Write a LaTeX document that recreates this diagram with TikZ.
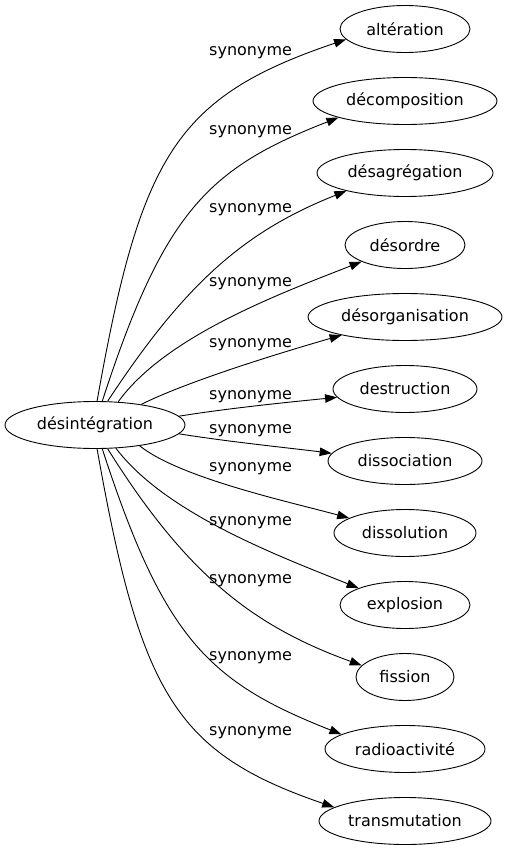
\documentclass[tikz,border=0pt]{standalone}
\usepackage{fontspec}
\setmainfont{DejaVu Sans}
\usetikzlibrary{arrows.meta,shapes.geometric}
\begin{document}
\begin{tikzpicture}[x=1pt,y=-1pt,
  every node/.style={font=\fontsize{16}{19}\selectfont},
  term/.style={ellipse,draw,line width=0.9pt,inner sep=0pt,minimum height=47pt},
  lbl/.style={anchor=base west,inner sep=0pt},
  syn/.style={draw,line width=0.9pt,-{Triangle[length=12pt,width=8.5pt]}}]
\useasboundingbox (0,0) rectangle (507,851);
\node[term,minimum width=180pt] (s) at (95,425) {désintégration};
\node[term,minimum width=130pt] (t1) at (405,29) {altération};
\node[term,minimum width=184pt] (t2) at (405,101) {décomposition};
\node[term,minimum width=176pt] (t3) at (405,173) {désagrégation};
\node[term,minimum width=120pt] (t4) at (405,245) {désordre};
\node[term,minimum width=194pt] (t5) at (405,317) {désorganisation};
\node[term,minimum width=144pt] (t6) at (405,389) {destruction};
\node[term,minimum width=154pt] (t7) at (405,461) {dissociation};
\node[term,minimum width=142pt] (t8) at (405,533) {dissolution};
\node[term,minimum width=130pt] (t9) at (405,605) {explosion};
\node[term,minimum width=98pt] (t10) at (405,677) {fission};
\node[term,minimum width=160pt] (t11) at (405,749) {radioactivité};
\node[term,minimum width=172pt] (t12) at (405,821) {transmutation};
\draw[syn] (s.85) .. controls (140.5,156) and (175.5,97) .. (t1.190);
\draw[syn] (s.73) .. controls (164,211) and (208.8,168) .. (t2.194);
\draw[syn] (s.62) .. controls (184,285) and (243,232) .. (t3.197);
\draw[syn] (s.45) .. controls (165,337) and (276,295) .. (t4.201);
\draw[syn] (s.24) .. controls (190,380) and (290,350) .. (t5.196);
\draw[syn] (s.6) .. controls (230,408) and (290,402) .. (t6.187);
\draw[syn] (s.354) .. controls (230,442) and (290,448) .. (t7.174);
\draw[syn] (s.335) .. controls (180,478) and (290,502) .. (t8.165);
\draw[syn] (s.312) .. controls (165,513) and (276,555) .. (t9.160);
\draw[syn] (s.298) .. controls (185,572) and (250,625) .. (t10.165);
\draw[syn] (s.287) .. controls (164,639) and (208.8,682) .. (t11.167);
\draw[syn] (s.275) .. controls (140.5,694) and (175.5,753) .. (t12.169);
\node[lbl] (l1) at (209,56) {synonyme};
\node[lbl] (l2) at (209,134) {synonyme};
\node[lbl] (l3) at (209,212) {synonyme};
\node[lbl] (l4) at (209,286) {synonyme};
\node[lbl] (l5) at (209,347) {synonyme};
\node[lbl] (l6) at (209,399) {synonyme};
\node[lbl] (l7) at (209,433) {synonyme};
\node[lbl] (l8) at (209,471) {synonyme};
\node[lbl] (l9) at (209,525) {synonyme};
\node[lbl] (l10) at (209,583) {synonyme};
\node[lbl] (l11) at (209,660) {synonyme};
\node[lbl] (l12) at (209,735) {synonyme};
\end{tikzpicture}
\end{document}
